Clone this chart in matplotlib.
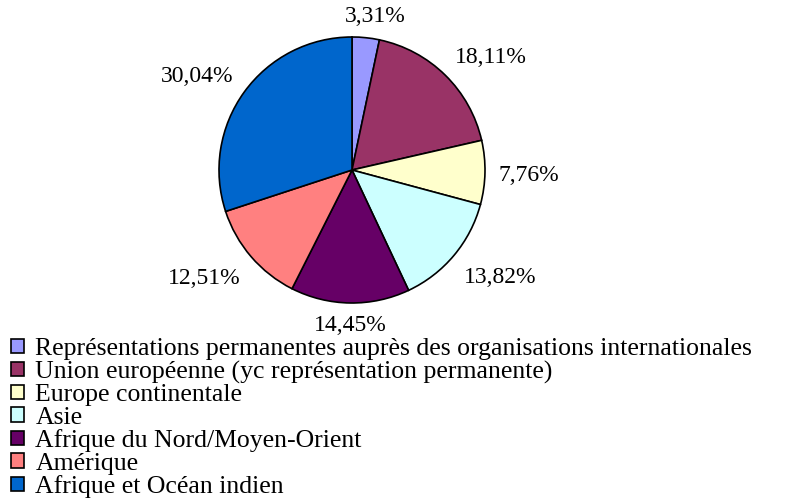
import numpy as np
import matplotlib
matplotlib.use("Agg")
import matplotlib.pyplot as plt

categories = [
    "Représentations permanentes auprès des organisations internationales",
    "Union européenne (yc représentation permanente)",
    "Europe continentale",
    "Asie",
    "Afrique du Nord/Moyen-Orient",
    "Amérique",
    "Afrique et Océan indien",
]
shares = [3.31, 18.11, 7.76, 13.82, 14.45, 12.51, 30.04]
colors = ["#9999FF", "#993366", "#FFFFCC", "#CCFFFF", "#660066", "#FF8080", "#0066CC"]

plt.rcParams["font.family"] = ["Liberation Serif", "DejaVu Serif"]

W, H = 791, 499
fig = plt.figure(figsize=(W / 100, H / 100), dpi=100)
cx, cy, r = 352, 170, 133
ax = fig.add_axes([(cx - r) / W, (H - cy - r) / H, 2 * r / W, 2 * r / H])
wedges, _ = ax.pie(shares, colors=colors, startangle=90, counterclock=False,
                   wedgeprops=dict(edgecolor="black", linewidth=1.2))
ax.set_xlim(-1, 1)
ax.set_ylim(-1, 1)
ax.set_aspect("equal")

# data labels placed just outside each slice, anchored like spreadsheet labels
total = sum(shares)
start = 0.0
for v in shares:
    mid = (start + v / 2) / total * 2 * np.pi
    start += v
    s, c = np.sin(mid), np.cos(mid)
    d = 1.1 if c > -0.95 else 1.07
    ha = "left" if s > 0.2 else ("right" if s < -0.2 else "center")
    va = "bottom" if c > 0.2 else ("top" if c < -0.2 else "center")
    ax.text(d * s + 0.06 * (abs(s) < 0.2) * (c > 0), d * c - 0.02,
            f"{v:.2f}%".replace(".", ","), ha=ha, va=va,
            fontsize=17, clip_on=False)

fig.legend(wedges, categories, loc="upper left", bbox_to_anchor=(11 / W, 1 - 338 / H),
           frameon=False, fontsize=18.5, borderpad=0, labelspacing=0.02,
           handlelength=0.5, handleheight=0.5, handletextpad=0.45,
           borderaxespad=0)

fig.savefig("out.png", dpi=100)
